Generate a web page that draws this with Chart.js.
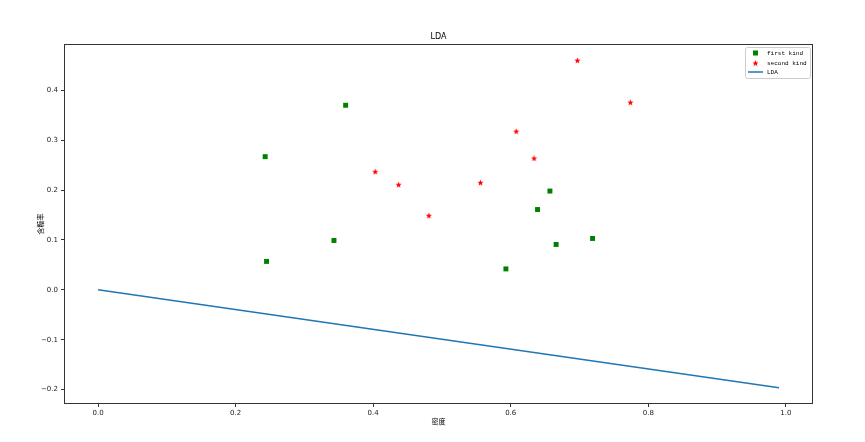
<!DOCTYPE html>
<html lang="zh">
  <head>
    <meta charset="UTF-8" />
    <script src="https://cdn.jsdelivr.net/npm/chart.js@4.4.0/dist/chart.umd.min.js"></script>
    <title>LDA</title>
    <style>
      body { margin: 0; background: #fff; }
    </style>
  </head>
  <body>
    <canvas id="myChart" width="865" height="442"></canvas>

    <script>
      // watermelon 3.0a: 密度 / 含糖率
      const badX = [0.666, 0.243, 0.245, 0.343, 0.639, 0.657, 0.360, 0.593, 0.719];
      const badY = [0.091, 0.267, 0.057, 0.099, 0.161, 0.198, 0.370, 0.042, 0.103];
      const goodX = [0.697, 0.774, 0.634, 0.608, 0.556, 0.403, 0.481, 0.437];
      const goodY = [0.460, 0.376, 0.264, 0.318, 0.215, 0.237, 0.149, 0.211];
      const ldaX = [0, 0.99];
      const ldaY = [0, -0.196];
      const xTicks = [0.0, 0.2, 0.4, 0.6, 0.8, 1.0];
      const yTicks = [-0.2, -0.1, 0.0, 0.1, 0.2, 0.3, 0.4];
      const labels = ["first kind", "second kind", "LDA"];

      const sans = "'DejaVu Sans', sans-serif";
      const mono = "'Liberation Mono', 'DejaVu Sans Mono', monospace";
      const cjk = "'Noto Sans CJK SC', sans-serif";

      // filled star marker like matplotlib '*'
      function makeStar(color) {
        const c = document.createElement("canvas");
        c.width = 7;
        c.height = 7;
        const g = c.getContext("2d");
        g.fillStyle = color;
        g.beginPath();
        for (let i = 0; i < 10; i++) {
          const r = i % 2 === 0 ? 3.2 : 1.4;
          const a = -Math.PI / 2 + (i * Math.PI) / 5;
          g.lineTo(3.5 + r * Math.cos(a), 3.8 + r * Math.sin(a));
        }
        g.closePath();
        g.fill();
        return c;
      }
      const star = makeStar("red");

      const pts = (xs, ys) => xs.map((x, i) => ({ x: x, y: ys[i] }));
      const fmt = (v) => v.toFixed(1).replace("-", "\u2212");

      const frame = {
        id: "frame",
        afterDraw(chart) {
          const ctx = chart.ctx;
          const a = chart.chartArea;
          ctx.save();
          ctx.strokeStyle = "#333";
          ctx.lineWidth = 1;
          ctx.strokeRect(a.left + 0.5, a.top + 0.5, a.right - a.left - 1, a.bottom - a.top - 1);

          ctx.fillStyle = "#000";
          ctx.textAlign = "center";
          ctx.textBaseline = "middle";
          ctx.font = "8px " + sans;
          ctx.fillText("LDA", (a.left + a.right) / 2, 37);
          ctx.font = "7px " + cjk;
          ctx.fillText("密度", (a.left + a.right) / 2, 421);
          ctx.save();
          ctx.translate(40, (a.top + a.bottom) / 2);
          ctx.rotate(-Math.PI / 2);
          ctx.fillText("含糖率", 0, 0);
          ctx.restore();

          // legend
          const lx = 745, ly = 47, lw = 65, lh = 31;
          ctx.fillStyle = "rgba(255,255,255,0.8)";
          ctx.strokeStyle = "#ccc";
          ctx.beginPath();
          ctx.roundRect(lx + 0.5, ly + 0.5, lw, lh, 2);
          ctx.fill();
          ctx.stroke();
          const rows = [53, 63, 72];
          const ds = chart.data.datasets;
          ctx.font = "6px " + mono;
          ctx.textAlign = "left";
          for (let i = 0; i < 3; i++) {
            const d = ds[i];
            if (d.showLine) {
              ctx.strokeStyle = d.borderColor;
              ctx.lineWidth = 1.5;
              ctx.beginPath();
              ctx.moveTo(748, rows[i]);
              ctx.lineTo(763, rows[i]);
              ctx.stroke();
            } else if (d.pointStyle === "rect") {
              ctx.fillStyle = d.backgroundColor;
              ctx.fillRect(753, rows[i] - 2.5, 5, 5);
            } else {
              Chart.helpers.drawPoint(ctx, {
                pointStyle: d.pointStyle,
                radius: d.pointRadius,
                rotation: 0,
                borderWidth: 0
              }, 755.5, rows[i]);
            }
            ctx.fillStyle = "#000";
            ctx.fillText(d.label, 767, rows[i]);
          }
          ctx.restore();
        }
      };

      const ctx = document.getElementById("myChart").getContext("2d");
      const myChart = new Chart(ctx, {
        type: "scatter",
        data: {
          datasets: [
            {
              label: labels[0],
              data: pts(badX, badY),
              pointStyle: "rect",
              pointRadius: 3.5,
              backgroundColor: "green",
              borderWidth: 0
            },
            {
              label: labels[1],
              data: pts(goodX, goodY),
              pointStyle: star,
              pointRadius: 3.5,
              backgroundColor: "red",
              borderWidth: 0
            },
            {
              label: labels[2],
              data: pts(ldaX, ldaY),
              showLine: true,
              pointRadius: 0,
              borderColor: "#1f77b4",
              borderWidth: 1.5,
              fill: false
            }
          ]
        },
        options: {
          responsive: false,
          animation: false,
          events: [],
          layout: { padding: { top: 44, right: 52, left: 0, bottom: 0 } },
          plugins: {
            legend: { display: false },
            title: { display: false },
            tooltip: { enabled: false }
          },
          scales: {
            x: {
              type: "linear",
              min: -0.0495,
              max: 1.0395,
              afterBuildTicks: (s) => { s.ticks = xTicks.map((v) => ({ value: v })); },
              afterFit: (s) => { s.height = 38; },
              ticks: {
                callback: (v) => fmt(v),
                font: { family: sans, size: 7 },
                color: "#222",
                padding: 2,
                maxRotation: 0,
                autoSkip: false
              },
              grid: { drawOnChartArea: false, drawTicks: true, tickLength: 3, color: "#333" },
              border: { display: false }
            },
            y: {
              type: "linear",
              min: -0.2288,
              max: 0.4928,
              afterBuildTicks: (s) => { s.ticks = yTicks.map((v) => ({ value: v })); },
              afterFit: (s) => { s.width = 64; },
              ticks: {
                callback: (v) => fmt(v),
                font: { family: sans, size: 7 },
                color: "#222",
                padding: 3,
                autoSkip: false
              },
              grid: { drawOnChartArea: false, drawTicks: true, tickLength: 3, color: "#333" },
              border: { display: false }
            }
          }
        },
        plugins: [frame]
      });
    </script>
  </body>
</html>
